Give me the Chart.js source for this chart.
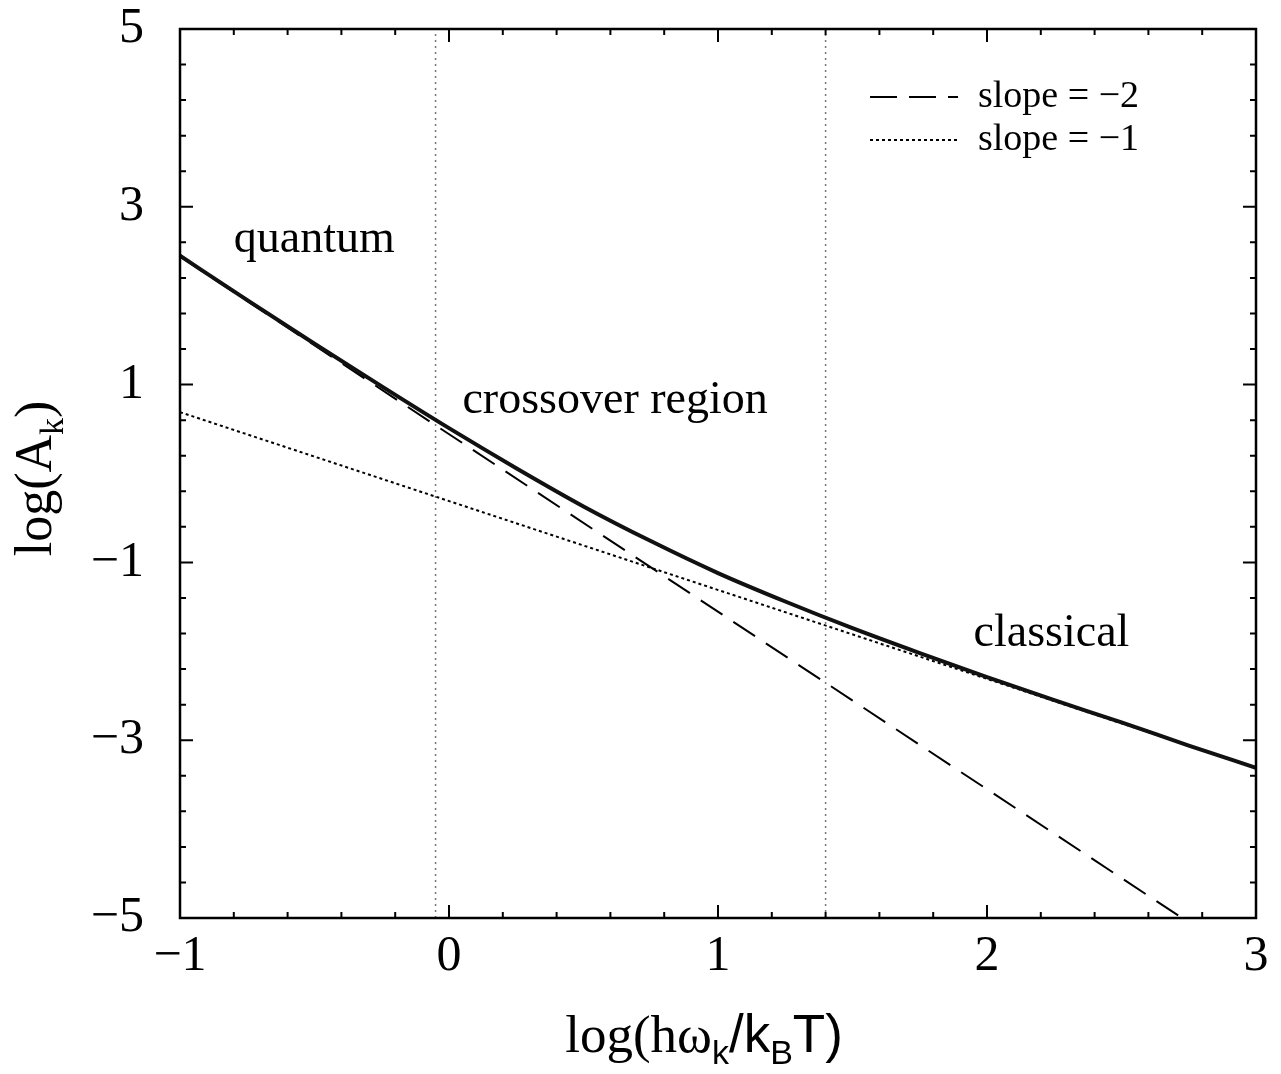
<!doctype html>
<html lang="en">
  <head>
    <meta charset="UTF-8" />
    <title>log(A_k) vs log(hw_k/k_BT)</title>
    <script src="https://cdn.jsdelivr.net/npm/chart.js"></script>
    <style>
      html, body { margin: 0; padding: 0; background: #fff; }
      #wrap { width: 1281px; height: 1074px; }
    </style>
  </head>
  <body>
    <div id="wrap"><canvas id="crossoverChart"></canvas></div>

    <script>
      // values
      const curveX = [-1, -0.75, -0.5, -0.25, 0, 0.25, 0.5, 0.75, 1, 1.25, 1.5, 1.75, 2, 2.25, 2.5, 2.75, 3];
      const curveY = [2.45, 1.95, 1.46, 0.98, 0.51, 0.06, -0.37, -0.76, -1.12, -1.44, -1.74, -2.02, -2.29, -2.55, -2.8, -3.06, -3.31];

      const slope2X = [-1, 2.725];
      const slope2Y = [2.44, -5];
      const slope1X = [-1, 3];
      const slope1Y = [0.69, -3.31];

      const regionBounds = [-0.05, 1.4];

      const xTickValues = [-1, 0, 1, 2, 3];
      const xTickLabels = ["\u22121", "0", "1", "2", "3"];
      const yTickValues = [-5, -3, -1, 1, 3, 5];
      const yTickLabels = ["\u22125", "\u22123", "\u22121", "1", "3", "5"];

      const legendLabels = ["slope = \u22122", "slope = \u22121"];
      const regionNames = ["quantum", "crossover region", "classical"];
      const regionNameX = [-0.8, 0.05, 1.95];
      const regionNameY = [2.49, 0.68, -1.94];

      const SERIF = "'Liberation Serif', 'Times New Roman', serif";
      const SANS = "'Liberation Sans', Arial, sans-serif";

      const pts = (xs, ys) => xs.map((x, i) => ({ x: x, y: ys[i] }));

      // frame, inward ticks on all four sides, labels, legend, axis titles
      const decorations = {
        id: "decorations",
        afterDraw(chart) {
          const ctx = chart.ctx;
          const a = chart.chartArea;
          const xs = chart.scales.x;
          const ys = chart.scales.y;
          ctx.save();
          ctx.strokeStyle = "#000";
          ctx.lineWidth = 2.5;
          ctx.strokeRect(a.left, a.top, a.right - a.left, a.bottom - a.top);

          ctx.lineWidth = 2;
          ctx.beginPath();
          for (let i = 0; i <= 20; i++) {
            const v = -1 + i * 0.2;
            const px = xs.getPixelForValue(v);
            const len = i % 5 === 0 ? 13 : 6;
            ctx.moveTo(px, a.bottom); ctx.lineTo(px, a.bottom - len);
            ctx.moveTo(px, a.top); ctx.lineTo(px, a.top + len);
          }
          for (let i = 0; i <= 25; i++) {
            const v = -5 + i * 0.4;
            const py = ys.getPixelForValue(v);
            const len = i % 5 === 0 ? 13 : 6;
            ctx.moveTo(a.left, py); ctx.lineTo(a.left + len, py);
            ctx.moveTo(a.right, py); ctx.lineTo(a.right - len, py);
          }
          ctx.stroke();

          // region names
          ctx.fillStyle = "#000";
          ctx.font = "46px " + SERIF;
          ctx.textBaseline = "alphabetic";
          ctx.textAlign = "left";
          regionNames.forEach((t, i) => {
            ctx.fillText(t, xs.getPixelForValue(regionNameX[i]), ys.getPixelForValue(regionNameY[i]));
          });

          // legend
          const lx0 = a.right - 386, lx1 = a.right - 298, tx = a.right - 278;
          const rows = [a.top + 68, a.top + 111];
          const dashes = [[27, 12], [3, 3]];
          ctx.font = "38px " + SERIF;
          legendLabels.forEach((t, i) => {
            ctx.setLineDash(dashes[i]);
            ctx.lineWidth = 2;
            ctx.beginPath();
            ctx.moveTo(lx0, rows[i]); ctx.lineTo(lx1, rows[i]);
            ctx.stroke();
            ctx.setLineDash([]);
            ctx.fillText(t, tx, rows[i] + 10);
          });

          // axis titles with subscripts
          const drawParts = (parts, x, y) => {
            let cx = x;
            parts.forEach((p) => {
              ctx.font = p.size + "px " + p.family;
              ctx.fillText(p.t, cx, y + (p.sub ? p.size * 0.35 : 0));
              cx += ctx.measureText(p.t).width;
            });
            return cx - x;
          };
          const widthOf = (parts) => parts.reduce((w, p) => {
            ctx.font = p.size + "px " + p.family;
            return w + ctx.measureText(p.t).width;
          }, 0);

          const xTitle = [
            { t: "log(h\u03c9", family: SERIF, size: 53 },
            { t: "k", family: SANS, size: 34, sub: true },
            { t: "/k", family: SANS, size: 53 },
            { t: "B", family: SANS, size: 34, sub: true },
            { t: "T)", family: SANS, size: 53 },
          ];
          const xw = widthOf(xTitle);
          drawParts(xTitle, (a.left + a.right) / 2 - 14 - xw / 2, 1052);

          const yTitle = [
            { t: "log(A", family: SERIF, size: 52 },
            { t: "k", family: SERIF, size: 34, sub: true },
            { t: ")", family: SERIF, size: 52 },
          ];
          const yw = widthOf(yTitle);
          ctx.translate(51, (a.top + a.bottom) / 2 + 5);
          ctx.rotate(-Math.PI / 2);
          drawParts(yTitle, -yw / 2, 0);
          ctx.restore();
        },
      };

      // invisible grid: only used so the tick marks push the labels off the axis
      const hiddenGrid = (len) => ({
        display: true,
        drawOnChartArea: false,
        drawTicks: true,
        tickLength: len,
        color: "rgba(0,0,0,0)",
      });

      new Chart(document.getElementById("crossoverChart").getContext("2d"), {
        type: "scatter",
        data: {
          datasets: [
            {
              label: "A_k",
              data: pts(curveX, curveY),
              showLine: true,
              borderColor: "#111",
              borderWidth: 4,
              pointRadius: 0,
              cubicInterpolationMode: "monotone",
            },
            {
              label: legendLabels[0],
              data: pts(slope2X, slope2Y),
              showLine: true,
              borderColor: "#000",
              borderWidth: 2,
              borderDash: [26, 13],
              pointRadius: 0,
            },
            {
              label: legendLabels[1],
              data: pts(slope1X, slope1Y),
              showLine: true,
              borderColor: "#000",
              borderWidth: 2,
              borderDash: [3, 3],
              pointRadius: 0,
            },
            ...regionBounds.map((b) => ({
              label: "bound",
              data: [{ x: b, y: -5 }, { x: b, y: 5 }],
              showLine: true,
              borderColor: "#777",
              borderWidth: 1.5,
              borderDash: [2, 4],
              pointRadius: 0,
            })),
          ],
        },
        options: {
          responsive: true,
          maintainAspectRatio: false,
          animation: false,
          layout: { padding: { top: 29, right: 25, left: 0, bottom: 0 } },
          plugins: { legend: { display: false }, tooltip: { enabled: false } },
          scales: {
            x: {
              type: "linear",
              min: -1,
              max: 3,
              afterBuildTicks: (s) => { s.ticks = xTickValues.map((v) => ({ value: v })); },
              afterFit: (s) => { s.height = 156; },
              grid: hiddenGrid(14),
              border: { display: false },
              ticks: {
                color: "#000",
                padding: 0,
                font: { family: SERIF, size: 50, lineHeight: 1 },
                callback: (v) => xTickLabels[xTickValues.indexOf(v)],
              },
            },
            y: {
              type: "linear",
              min: -5,
              max: 5,
              afterBuildTicks: (s) => { s.ticks = yTickValues.map((v) => ({ value: v })); },
              afterFit: (s) => { s.width = 180; },
              grid: hiddenGrid(36),
              border: { display: false },
              ticks: {
                color: "#000",
                padding: 0,
                font: { family: SERIF, size: 50, lineHeight: 1 },
                callback: (v) => yTickLabels[yTickValues.indexOf(v)],
              },
            },
          },
        },
        plugins: [decorations],
      });
    </script>
  </body>
</html>
